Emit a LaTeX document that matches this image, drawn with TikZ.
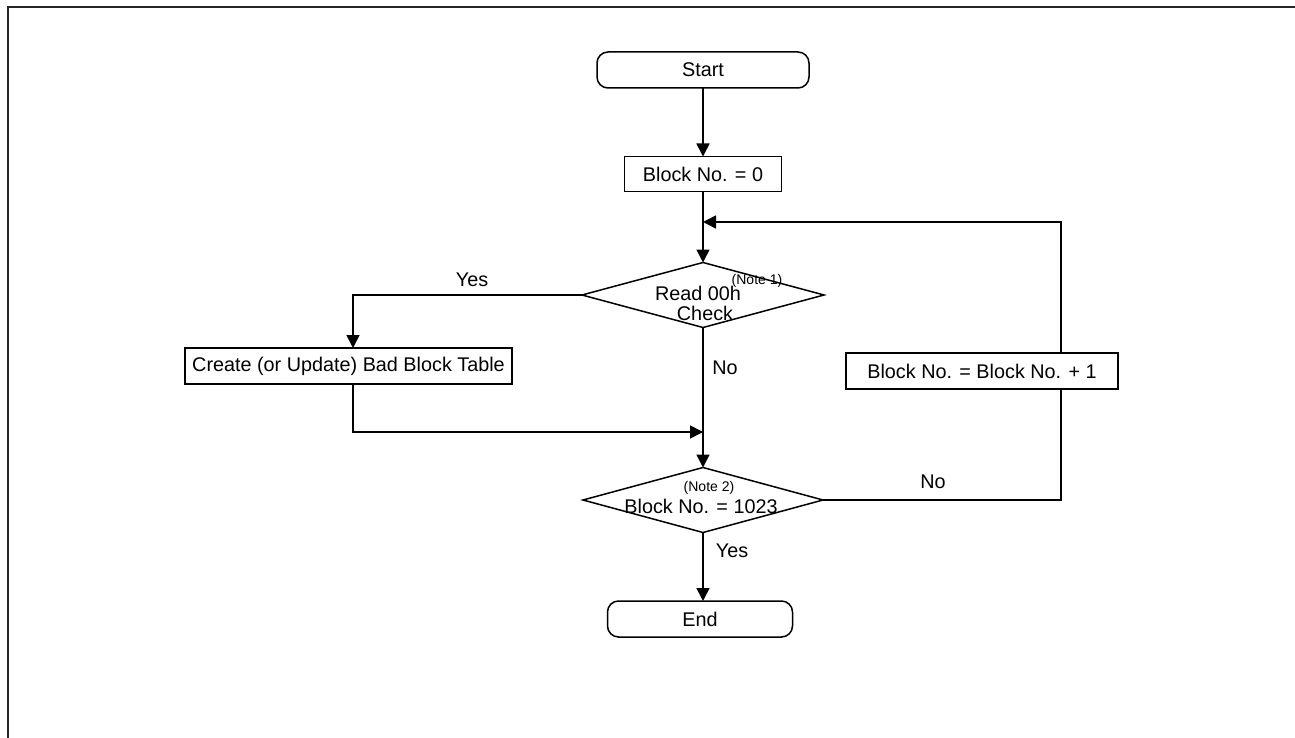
\documentclass[tikz,border=0pt]{standalone}
\usepackage{fontspec}
\setmainfont{Liberation Sans}
\usetikzlibrary{shapes.geometric,arrows.meta}
\tikzset{
  big/.style={font=\fontsize{19.8}{22}\selectfont},
  small/.style={font=\fontsize{14}{16}\selectfont},
  term/.style={draw, line width=1.5pt, rounded corners=11pt, minimum width=#1, minimum height=36pt, inner sep=0pt, outer sep=0pt, big},
  procbox/.style={draw, line width=1.5pt, fill=white, minimum height=36pt, inner sep=0pt, outer sep=0pt, big},
  decision/.style={draw, line width=1.5pt, diamond, minimum width=242pt, minimum height=65pt, inner sep=0pt, outer sep=0pt},
  conn/.style={line width=1.6pt},
  arr/.style={conn, -{Triangle[length=13pt,width=13pt]}},
  lbl/.style={big, inner sep=0pt}
}
\begin{document}
\begin{tikzpicture}[x=1pt,y=-1pt]
\useasboundingbox (0,0) rectangle (1295,738);
% frame
\draw[black!85, line width=1.6pt] (1295,7) -- (8,7) -- (8,738);

\node[term=212pt] (start) at (703,70) {Start};
\node[procbox, minimum width=157pt, minimum height=35pt] (b0) at (703,174) {Block No. = 0};
\node[decision] (d1) at (703,295) {};
\node[big, inner sep=0pt] (t1) at (698,293) {Read 00h};
\node[small, inner sep=0pt] (n1) at (757,281) {(Note 1)};
\node[big, inner sep=0pt] (t1b) at (705,313) {Check};
\node[procbox, minimum width=327pt, minimum height=36pt] (cbt) at (348.5,366) {Create (or Update) Bad Block Table};
\node[decision, minimum width=240pt] (d2) at (703,500) {};
\node[small, inner sep=0pt] (n2) at (709,488) {(Note 2)};
\node[big, inner sep=0pt] (t2) at (701,506) {Block No. = 1023};
\node[term=185pt] (end) at (700,619) {End};

\coordinate (loopc) at (1061,500);
\coordinate (m1) at (703,222);
\coordinate (m2) at (703,432);
\coordinate (cbtin) at (353,348);
\coordinate (cbtout) at (353,384);

\draw[arr] (start) -- (b0);
\draw[arr] (b0) -- (d1);
\draw[arr] (d1.west) -| (cbtin);
\draw[arr] (cbtout) |- (m2);
\draw[arr] (d1.south) -- (d2.north);
\draw[arr] (d2.south) -- (d2.south |- end.north);
\draw[arr] (d2.east) -- (loopc) |- (m1);

\node[procbox, minimum width=272pt] (inc) at (982,371) {Block No. = Block No. + 1};

\node[lbl] (yes1) at (472,280) {Yes};
\node[lbl] (no1) at (725,368) {No};
\node[lbl] (no2) at (933,482) {No};
\node[lbl] (yes2) at (732,551) {Yes};
\end{tikzpicture}
\end{document}
